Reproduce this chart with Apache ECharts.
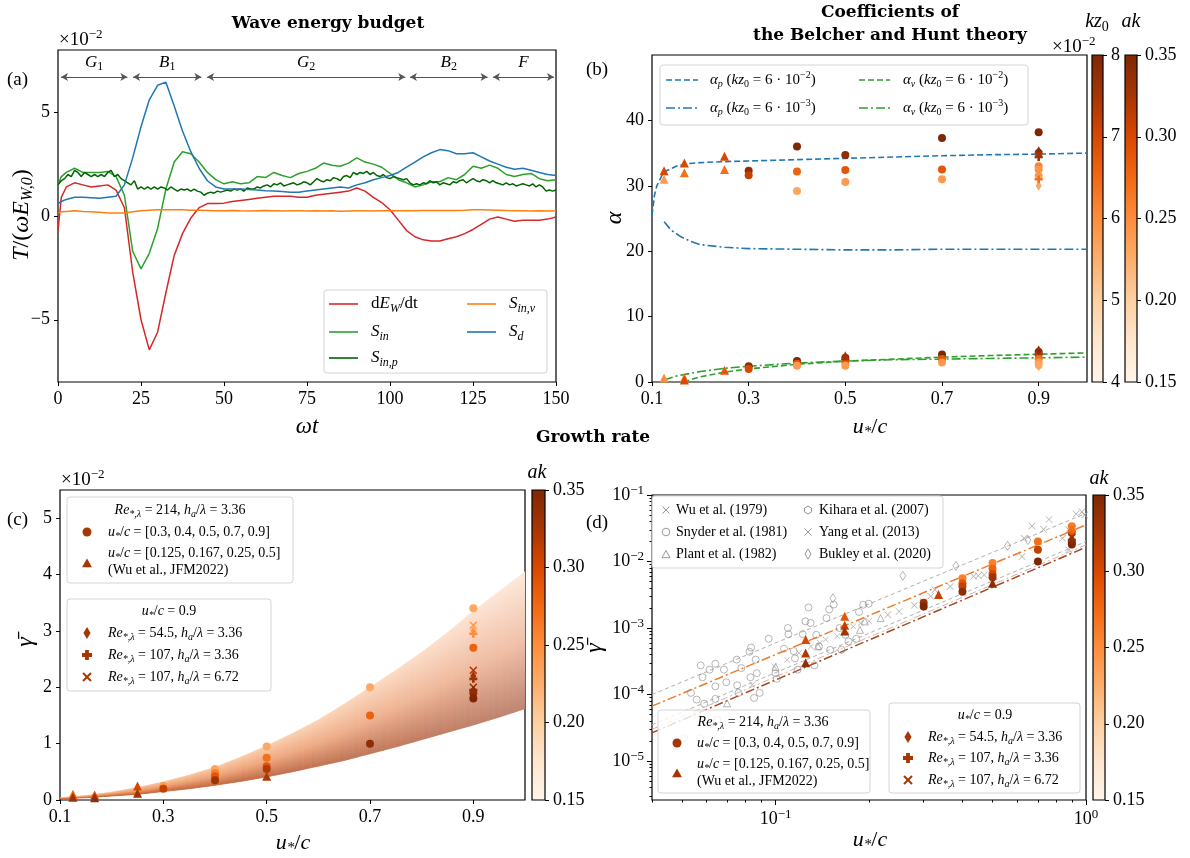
<!DOCTYPE html>
<html><head><meta charset="utf-8">
<script src="https://cdn.jsdelivr.net/npm/echarts@6/dist/echarts.min.js"></script>
<style>html,body{margin:0;padding:0;background:#fff}#c{width:1190px;height:858px}</style>
</head><body><div id="c"></div>
<script>
// ================= DATA =================
// (a) wave energy budget, values in units of 1e-2
const tA = [0,1,2.5,5,7.5,10,12.5,15,17.5,20,22.5,25,27.5,30,32.5,35,37.5,40,42.5,45,47.5,50,52.5,55,57.5,60,62.5,65,67.5,70,72.5,75,77.5,80,82.5,85,87.5,90,92.5,95,97.5,100,102.5,105,107.5,110,112.5,115,117.5,120,122.5,125,127.5,130,132.5,135,137.5,140,142.5,145,147.5,150];
const dEdt = [-0.7,0.9,1.4,1.6,1.5,1.4,1.45,1.5,1.25,0.4,-2.7,-5.0,-6.45,-5.6,-3.7,-1.9,-0.85,-0.1,0.4,0.6,0.6,0.62,0.7,0.75,0.8,0.85,0.9,0.95,0.95,0.95,0.9,0.9,1.0,1.05,1.1,1.15,1.2,1.35,1.2,0.9,0.65,0.3,-0.2,-0.7,-1.0,-1.15,-1.2,-1.2,-1.1,-1.0,-0.85,-0.65,-0.4,-0.15,-0.05,-0.15,-0.25,-0.2,-0.2,-0.2,-0.15,-0.05];
const Sin = [1.5,1.9,2.1,2.3,2.1,2.1,2.1,2.15,1.9,1.0,-1.7,-2.55,-1.8,-0.6,1.3,2.6,3.1,3.0,2.6,2.1,1.75,1.55,1.65,1.55,1.6,1.9,1.85,2.1,1.95,1.85,2.05,2.15,2.3,2.55,2.45,2.4,2.55,2.8,2.6,2.5,2.35,2.05,1.75,1.6,1.4,1.5,1.65,1.65,1.85,1.75,2.0,2.4,2.3,2.45,2.3,2.0,1.9,2.0,2.05,1.8,1.7,1.75];
const SinNu = [0.15,0.2,0.22,0.25,0.22,0.2,0.18,0.15,0.15,0.15,0.2,0.25,0.28,0.3,0.3,0.3,0.3,0.28,0.28,0.27,0.25,0.25,0.27,0.25,0.24,0.25,0.26,0.25,0.24,0.25,0.25,0.24,0.25,0.24,0.25,0.23,0.24,0.25,0.25,0.24,0.25,0.26,0.25,0.25,0.25,0.26,0.27,0.26,0.26,0.27,0.28,0.3,0.3,0.29,0.28,0.26,0.25,0.25,0.24,0.25,0.24,0.25];
const Sd = [0.6,0.7,0.8,0.9,0.9,0.88,0.85,0.9,0.95,1.5,2.8,4.3,5.6,6.3,6.45,5.3,4.1,3.1,2.3,1.7,1.4,1.3,1.3,1.3,1.28,1.25,1.22,1.2,1.18,1.15,1.15,1.2,1.25,1.3,1.35,1.4,1.35,1.5,1.6,1.75,1.85,1.95,2.1,2.35,2.6,2.85,3.05,3.2,3.15,3.0,3.0,3.05,2.85,2.65,2.5,2.35,2.25,2.3,2.2,2.1,2.0,1.95];
// S_in,p sampled every 1 unit of omega t (0..150)
const tPstep = 1;
const SinP = [1.5,1.7,1.8,2.0,1.9,2.2,2.1,1.9,2.1,2.0,1.9,
 2.0,1.9,2.0,1.9,2.1,2.2,1.9,2.0,1.8,1.7,
 1.6,1.5,1.7,1.3,1.4,1.3,1.4,1.3,1.4,1.3,
 1.4,1.35,1.25,1.4,1.3,1.2,1.3,1.25,1.3,1.2,
 1.3,1.2,1.15,1.0,1.1,1.15,1.1,1.2,1.15,1.2,
 1.25,1.2,1.3,1.25,1.3,1.2,1.35,1.3,1.3,1.4,
 1.35,1.45,1.5,1.4,1.55,1.5,1.6,1.45,1.5,1.55,
 1.6,1.5,1.55,1.65,1.6,1.5,1.65,1.8,1.7,1.65,
 1.75,1.7,1.85,1.8,1.7,1.9,1.95,1.85,2.1,2.0,
 2.1,2.05,2.15,2.0,2.1,1.95,1.9,2.0,1.85,1.8,
 1.9,1.85,1.8,1.75,1.8,1.6,1.5,1.55,1.5,1.6,
 1.55,1.7,1.6,1.65,1.5,1.6,1.55,1.5,1.65,1.6,
 1.7,1.75,1.6,1.7,1.8,1.7,1.65,1.75,1.7,1.6,
 1.7,1.6,1.55,1.5,1.6,1.5,1.55,1.45,1.5,1.55,
 1.5,1.45,1.55,1.4,1.5,1.4,1.2,1.25,1.2,1.25];
const phaseNames = ['{i|G}{sr|1}','{i|B}{sr|1}','{i|G}{sr|2}','{i|B}{sr|2}','{i|F}'];
const phaseStart = [0.9,22.6,44.9,106,131];
const phaseEnd = [20.9,43.2,104.6,129.4,149.4];
const phaseY = 6.7;

// (b) Belcher & Hunt coefficients
const uPhi = [0.1,0.105,0.11,0.12,0.13,0.15,0.175,0.2,0.25,0.3,0.4,0.5,0.6,0.7,0.8,0.9,1.0];
const aPhi = [25.5,28.5,30.0,31.5,32.3,33.0,33.4,33.55,33.7,33.8,34.0,34.2,34.4,34.6,34.75,34.85,35.0];
const uPlo = [0.125,0.14,0.16,0.18,0.2,0.25,0.3,0.4,0.5,0.6,0.7,0.8,0.9,1.0];
const aPlo = [24.5,23.2,22.2,21.5,21.0,20.6,20.4,20.3,20.2,20.2,20.3,20.3,20.3,20.3];
const uNhi = [0.165,0.2,0.25,0.3,0.4,0.5,0.6,0.7,0.8,0.9,1.0];
const aNhi = [0.0,0.8,1.5,2.0,2.7,3.2,3.5,3.8,4.05,4.25,4.45];
const uNlo = [0.125,0.15,0.2,0.25,0.3,0.4,0.5,0.6,0.7,0.8,0.9,1.0];
const aNlo = [0.3,0.9,1.6,2.1,2.4,2.9,3.2,3.4,3.5,3.6,3.7,3.8];
// [u*/c, alpha, ak]
const bCirc = [[0.3,32.3,0.34],[0.3,31.6,0.31],[0.4,36.0,0.35],[0.4,32.2,0.28],[0.4,29.2,0.23],[0.5,34.7,0.34],[0.5,32.4,0.29],[0.5,30.6,0.24],[0.7,37.3,0.35],[0.7,32.5,0.29],[0.7,31.0,0.24],[0.9,38.2,0.35],[0.9,35.0,0.32],[0.9,33.0,0.26],[0.9,32.5,0.24],[0.9,31.5,0.23],
 [0.3,2.4,0.34],[0.3,2.0,0.3],[0.4,3.2,0.35],[0.4,2.8,0.29],[0.4,2.5,0.24],[0.5,3.7,0.34],[0.5,3.1,0.29],[0.5,2.5,0.24],[0.7,4.2,0.35],[0.7,3.5,0.29],[0.7,3.0,0.24],[0.9,4.6,0.35],[0.9,4.2,0.32],[0.9,3.5,0.27],[0.9,3.0,0.24],[0.9,2.6,0.23]];
const bTri = [[0.125,32.3,0.3],[0.125,31.0,0.24],[0.167,33.5,0.3],[0.167,32.0,0.27],[0.25,34.5,0.3],[0.25,32.5,0.27],[0.125,0.6,0.25],[0.167,0.6,0.27],[0.167,0.3,0.3],[0.25,1.8,0.29],[0.5,4.0,0.33]];
const bDia = [[0.9,35.3,0.34],[0.9,30.0,0.23],[0.9,4.8,0.34],[0.9,2.4,0.23]];
const bPlus = [[0.9,31.0,0.27],[0.9,34.4,0.33]];
const bX = [[0.9,34.8,0.33],[0.9,32.0,0.25]];

// (c) growth rate (units 1e-2)
const bandU = [0.1,0.15,0.2,0.25,0.3,0.35,0.4,0.45,0.5,0.55,0.6,0.65,0.7,0.75,0.8,0.85,0.9,0.95,1.0];
const bandLo = [0.02,0.04,0.07,0.1,0.15,0.2,0.26,0.33,0.41,0.5,0.6,0.7,0.82,0.94,1.07,1.2,1.33,1.47,1.62];
const bandHi = [0.04,0.08,0.14,0.22,0.32,0.44,0.58,0.76,0.96,1.18,1.42,1.7,2.0,2.3,2.62,2.97,3.35,3.7,4.05];
const cCirc = [[0.3,0.25,0.24],[0.3,0.2,0.31],[0.4,0.55,0.23],[0.4,0.48,0.26],[0.4,0.42,0.29],[0.4,0.35,0.33],[0.5,0.95,0.23],[0.5,0.75,0.27],[0.5,0.6,0.29],[0.5,0.55,0.32],[0.7,2.0,0.23],[0.7,1.5,0.28],[0.7,1.0,0.34],[0.9,3.4,0.23],[0.9,2.7,0.28],[0.9,1.9,0.34],[0.9,1.8,0.35]];
const cTri = [[0.125,0.1,0.28],[0.125,0.05,0.33],[0.167,0.09,0.3],[0.167,0.04,0.34],[0.25,0.25,0.3],[0.25,0.12,0.33],[0.5,0.42,0.32]];
const cDia = [[0.9,3.0,0.24],[0.9,2.2,0.33],[0.9,1.85,0.35]];
const cPlus = [[0.9,2.95,0.25],[0.9,2.15,0.33],[0.9,1.95,0.34]];
const cX = [[0.9,3.1,0.24],[0.9,2.3,0.32],[0.9,2.0,0.34]];

// (d) growth rate, log-log
const wu79 = [[0.0841,1.41e-4],[0.099,2.66e-4],[0.109,3.35e-4],[0.119,4.2e-4],[0.13,5.3e-4],[0.139,6.0e-4],[0.145,6.7e-4],[0.158,7.5e-4],[0.178,1.06e-3],[0.188,1.19e-3],[0.2,1.26e-3]];
const snyder81 = [[0.0534,1.06e-4],[0.0557,8.4e-5],[0.0574,2.75e-4],[0.0582,1.82e-4],[0.0589,7.3e-5],[0.0613,2.37e-4],[0.064,2.9e-4],[0.064,1.33e-4],[0.064,8.6e-5],[0.0682,2.37e-4],[0.0694,1.53e-4],[0.075,3.35e-4],[0.0752,1.38e-4],[0.076,1.06e-4],[0.0776,2.5e-4],[0.0824,4.4e-4],[0.0834,5.1e-4],[0.083,1.82e-4],[0.0853,8.9e-5],[0.0863,3.35e-4],[0.087,2.1e-4],[0.0889,1.06e-4],[0.095,6.9e-4],[0.1,2.1e-4],[0.1009,1.72e-4],[0.1065,4.9e-4],[0.1096,1.0e-3],[0.11,8.1e-4],[0.1145,4.5e-4],[0.1155,3.5e-4],[0.1178,2.37e-4],[0.1223,8.1e-4],[0.1248,1.26e-3],[0.1277,2.04e-3],[0.1296,1.19e-3],[0.1334,2.75e-4],[0.1352,7.9e-4],[0.138,5.3e-4],[0.1459,1.41e-3],[0.1488,1.9e-3],[0.15,4.7e-4],[0.154,2.26e-3],[0.1608,1.0e-3],[0.163,4.7e-4],[0.168,7.9e-4],[0.1718,6.3e-4],[0.182,6.9e-4],[0.1857,1.74e-3],[0.1916,2.24e-3],[0.1995,2.32e-3],[0.0571,2.24e-5],[0.0596,4.2e-5],[0.0508,2.24e-5]];
const plant82 = [[0.0698,7.4e-5],[0.1,2.6e-4],[0.137,5.3e-4],[0.187,9.4e-4],[0.194,1.26e-3],[0.218,1.41e-3]];
const kihara07 = [[0.0557,5.0e-5],[0.0611,3.6e-5],[0.0649,4.2e-5]];
const yang13 = [[0.23,1.58e-3],[0.25,1.78e-3],[0.28,2.2e-3],[0.299,2.5e-3],[0.316,3.0e-3],[0.326,3.76e-3],[0.365,4.2e-3],[0.434,6.0e-3],[0.45,6.1e-3],[0.47,6.3e-3],[0.5,5.3e-3],[0.622,1.19e-2],[0.632,2.24e-2],[0.67,3.43e-2],[0.73,3.05e-2],[0.76,4.3e-2],[0.84,2.24e-2],[0.88,1.5e-2],[0.93,5.2e-2],[0.97,5.6e-2],[0.99,5.0e-2],[0.88,3.0e-2]];
const bukley20 = [[0.153,2.8e-3],[0.257,6.1e-3],[0.381,8.6e-3],[0.559,1.72e-2],[0.65,2.1e-2]];
const refUpper = [[0.04,1.0e-4],[1.0,5.3e-2]];
const refOrange = [[0.04,6.7e-5],[1.0,3.55e-2]];
const refGrayA = [[0.04,3.5e-5],[1.0,2.0e-2]];
const refGrayB = [[0.04,3.0e-5],[1.0,1.78e-2]];
const refBrown = [[0.04,2.66e-5],[1.0,1.64e-2]];
const dCirc = [[0.3,2.4e-3,0.33],[0.3,2.1e-3,0.35],[0.4,5.6e-3,0.26],[0.4,4.7e-3,0.29],[0.4,4.2e-3,0.31],[0.4,3.5e-3,0.34],[0.5,9.5e-3,0.26],[0.5,7.8e-3,0.28],[0.5,6.5e-3,0.3],[0.5,5.8e-3,0.33],[0.7,2.0e-2,0.27],[0.7,1.5e-2,0.31],[0.7,1.0e-2,0.35],[0.9,3.4e-2,0.26],[0.9,2.7e-2,0.3],[0.9,1.9e-2,0.34],[0.9,1.8e-2,0.35]];
const dTri = [[0.125,6.7e-4,0.3],[0.125,4.2e-4,0.32],[0.125,3.0e-4,0.34],[0.167,1.5e-3,0.29],[0.167,1.1e-3,0.31],[0.167,9.0e-4,0.33],[0.335,3.2e-3,0.31],[0.5,4.7e-3,0.34]];
const dDia = [[0.9,3.0e-2,0.27],[0.9,2.2e-2,0.33]];
const dPlus = [[0.9,2.9e-2,0.28],[0.9,2.1e-2,0.34]];
const dX = [[0.9,3.1e-2,0.27],[0.9,2.3e-2,0.33]];

// tick labels
const ticksA_x = [0,25,50,75,100,125,150];
const ticksA_y = [-5,0,5];
const ticksU = [0.1,0.3,0.5,0.7,0.9];
const ticksB_y = [0,10,20,30,40];
const ticksC_y = [0,1,2,3,4,5];
const ticksKz = [4,5,6,7,8];
const ticksAk = [0.15,0.2,0.25,0.3,0.35];
const ticksD_x = [0.1,1];
const ticksD_xm = [0.04,0.05,0.06,0.07,0.08,0.09,0.2,0.3,0.4,0.5,0.6,0.7,0.8,0.9];
const ticksD_y = [1e-5,1e-4,1e-3,1e-2,1e-1];
const ticksD_ym = [3e-6,4e-6,5e-6,6e-6,7e-6,8e-6,9e-6,2e-5,3e-5,4e-5,5e-5,6e-5,7e-5,8e-5,9e-5,2e-4,3e-4,4e-4,5e-4,6e-4,7e-4,8e-4,9e-4,2e-3,3e-3,4e-3,5e-3,6e-3,7e-3,8e-3,9e-3,2e-2,3e-2,4e-2,5e-2,6e-2,7e-2,8e-2,9e-2];

// ================= STYLE =================
const SERIF = "'Liberation Serif','DejaVu Serif',serif";
const BOLD = "'DejaVu Serif','Liberation Serif',serif";
const OR = ['#fff5eb','#fee6ce','#fdd0a2','#fdae6b','#fd8d3c','#f16913','#d94801','#a63603','#7f2704'];
const MK = '#a63603';
const cbGrad = new echarts.graphic.LinearGradient(0,0,0,1, OR.slice().reverse().map((c,i)=>({offset:i/8,color:c})));
// band colours (left end / right end of the band), top -> bottom
const bandColL = [[249,184,134],[236,146,92],[196,90,40]];
const bandColR = [[253,233,220],[240,192,168],[190,132,112]];

function R(s){const q=Math.round(s*0.68);const b={fontFamily:SERIF,fill:'#000',color:'#000'};
  return {
    r:Object.assign({},b,{fontSize:s,lineHeight:s+4}),
    i:Object.assign({},b,{fontSize:s,lineHeight:s+4,fontStyle:'italic'}),
    sb:Object.assign({},b,{fontSize:q,lineHeight:q,fontStyle:'italic',verticalAlign:'bottom'}),
    sr:Object.assign({},b,{fontSize:q,lineHeight:q,verticalAlign:'bottom'}),
    su:Object.assign({},b,{fontSize:q,lineHeight:q,verticalAlign:'top'})
  };}

// ================= GRAPHICS (text, legends) =================
const G = [];
function T(x,y,text,s,o){o=o||{};G.push({type:'text',x:x,y:y,z:100,silent:true,rotation:o.rot||0,
  style:{text:text,fill:'#000',fontFamily:o.bold?BOLD:SERIF,fontSize:s,fontWeight:o.bold?'bold':'normal',
  fontStyle:o.it?'italic':'normal',align:o.align||'left',verticalAlign:'middle',rich:R(s)}});}
function box(x,y,w,h){G.push({type:'rect',z:99,silent:true,shape:{x:x,y:y,width:w,height:h,r:3},style:{fill:'rgba(255,255,255,0.8)',stroke:'#d4d4d4',lineWidth:1}});}
function seg(x1,y,x2,color,dash){G.push({type:'line',z:100,silent:true,shape:{x1:x1,y1:y,x2:x2,y2:y},style:{stroke:color,lineWidth:1.6,lineDash:dash||null}});}
function mk(kind,cx,cy,r,color,hollow){
  const st = hollow?{fill:'none',stroke:color,lineWidth:0.9}:{fill:color};
  let pts=null;
  if(kind==='circle'){G.push({type:'circle',z:100,silent:true,shape:{cx:cx,cy:cy,r:r},style:st});return;}
  if(kind==='x'){const w=hollow?0.9:2;
    G.push({type:'line',z:100,silent:true,shape:{x1:cx-r,y1:cy-r,x2:cx+r,y2:cy+r},style:{stroke:color,lineWidth:w}});
    G.push({type:'line',z:100,silent:true,shape:{x1:cx-r,y1:cy+r,x2:cx+r,y2:cy-r},style:{stroke:color,lineWidth:w}});return;}
  if(kind==='tri') pts=[[cx,cy-r],[cx+r*0.9,cy+r*0.6],[cx-r*0.9,cy+r*0.6]];
  if(kind==='dia') pts=[[cx,cy-r],[cx+r*0.6,cy],[cx,cy+r],[cx-r*0.6,cy]];
  if(kind==='hex') pts=[[cx,cy-r],[cx+r*0.87,cy-r/2],[cx+r*0.87,cy+r/2],[cx,cy+r],[cx-r*0.87,cy+r/2],[cx-r*0.87,cy-r/2]];
  if(kind==='plus'){const w=r*0.38;pts=[[cx-w,cy-r],[cx+w,cy-r],[cx+w,cy-w],[cx+r,cy-w],[cx+r,cy+w],[cx+w,cy+w],[cx+w,cy+r],[cx-w,cy+r],[cx-w,cy+w],[cx-r,cy+w],[cx-r,cy-w],[cx-w,cy-w]];}
  G.push({type:'polygon',z:100,silent:true,shape:{points:pts},style:st});
}

// titles
T(328,24,'Wave energy budget',17,{bold:true,align:'center'});
T(890,13,'Coefficients of',17,{bold:true,align:'center'});
T(890,36,'the Belcher and Hunt theory',17,{bold:true,align:'center'});
T(593,438,'Growth rate',17,{bold:true,align:'center'});
// panel labels
T(7,80,'(a)',19); T(586,70,'(b)',19); T(7,520,'(c)',19); T(586,523,'(d)',19);
// multipliers
T(59,40,'{r|×10}{su|−2}',19); T(61,480,'{r|×10}{su|−2}',19); T(1052,47,'{r|×10}{su|−2}',19);
// colorbar titles
T(1097,22,'{i|kz}{sr|0}',20,{align:'center'}); T(1131,22,'{i|ak}',20,{align:'center'});
T(537,473,'{i|ak}',20,{align:'center'}); T(1099,479,'{i|ak}',20,{align:'center'});
// axis titles
T(307,427,'{i|ωt}',23,{align:'center'});
T(870,427,'{i|u}{sb|*}{r|/}{i|c}',22,{align:'center'});
T(293,843,'{i|u}{sb|*}{r|/}{i|c}',22,{align:'center'});
T(870,840,'{i|u}{sb|*}{r|/}{i|c}',22,{align:'center'});
T(22,215,'{i|T}{r|/(}{i|ωE}{sb|W,0}{r|)}',24,{align:'center',rot:Math.PI/2});
T(615,218,'{i|α}',24,{align:'center',rot:Math.PI/2});
T(26,642,'{i|γ̄}',24,{align:'center',rot:Math.PI/2});
T(595,648,'{i|γ̄}',24,{align:'center',rot:Math.PI/2});

// legend (a)
box(324,290,223,83);
seg(329,304,358,'#d62728'); T(371,304,'{r|d}{i|E}{sb|W}{r|/dt}',17);
seg(329,332,358,'#2ca02c'); T(371,332,'{i|S}{sb|in}',17);
seg(329,358,358,'#006400'); T(371,358,'{i|S}{sb|in,p}',17);
seg(467,304,496,'#ff7f0e'); T(509,304,'{i|S}{sb|in,ν}',17);
seg(467,332,496,'#1f77b4'); T(509,332,'{i|S}{sb|d}',17);
// legend (b)
box(660,65,368,60);
seg(666,80,698,'#1f77b4',[6,3]); T(710,80,'{i|α}{sb|p}{r| (}{i|kz}{sr|0}{r| = 6 · 10}{su|−2}{r|)}',15);
seg(666,108,698,'#1f77b4',[9,3,2,3]); T(710,108,'{i|α}{sb|p}{r| (}{i|kz}{sr|0}{r| = 6 · 10}{su|−3}{r|)}',15);
seg(859,80,890,'#2ca02c',[6,3]); T(903,80,'{i|α}{sb|ν}{r| (}{i|kz}{sr|0}{r| = 6 · 10}{su|−2}{r|)}',15);
seg(859,108,890,'#2ca02c',[9,3,2,3]); T(903,108,'{i|α}{sb|ν}{r| (}{i|kz}{sr|0}{r| = 6 · 10}{su|−3}{r|)}',15);
// legends (c)
const ttlRe214 = '{i|Re}{sb|*,λ}{r| = 214, }{i|h}{sb|a}{r|/}{i|λ}{r| = 3.36}';
const rowCirc = '{i|u}{sb|*}{r|/}{i|c}{r| = [0.3, 0.4, 0.5, 0.7, 0.9]}';
const rowTri = '{i|u}{sb|*}{r|/}{i|c}{r| = [0.125, 0.167, 0.25, 0.5]}';
const ttl09 = '{i|u}{sb|*}{r|/}{i|c}{r| = 0.9}';
const rowDia = '{i|Re}{sb|*,λ}{r| = 54.5, }{i|h}{sb|a}{r|/}{i|λ}{r| = 3.36}';
const rowPlus = '{i|Re}{sb|*,λ}{r| = 107, }{i|h}{sb|a}{r|/}{i|λ}{r| = 3.36}';
const rowX = '{i|Re}{sb|*,λ}{r| = 107, }{i|h}{sb|a}{r|/}{i|λ}{r| = 6.72}';
box(67,497,226,86);
T(180,510,ttlRe214,14,{align:'center'});
mk('circle',87,532,4.5,MK); T(108,532,rowCirc,14);
mk('tri',87,564,5.5,MK); T(108,553,rowTri,14); T(108,570,'(Wu et al., JFM2022)',14);
box(67,599,204,92);
T(169,611,ttl09,14,{align:'center'});
mk('dia',87,633,6,MK); T(108,633,rowDia,14);
mk('plus',87,655,5,MK); T(108,655,rowPlus,14);
mk('x',87,677,4,MK); T(108,677,rowX,14);
// legends (d)
box(652,496,291,72);
const GR='#8c8c8c';
mk('x',666,510,3.5,GR,true); T(676,510,'Wu et al. (1979)',14);
mk('circle',666,532,3.8,GR,true); T(676,532,'Snyder et al. (1981)',14);
mk('tri',666,555,4.5,GR,true); T(676,554,'Plant et al. (1982)',14);
mk('hex',808,510,4,GR,true); T(819,510,'Kihara et al. (2007)',14);
mk('x',808,532,3.5,GR,true); T(819,532,'Yang et al. (2013)',14);
mk('dia',808,554,5,GR,true); T(819,554,'Bukley et al. (2020)',14);
box(658,710,212,83);
T(763,722,ttlRe214,14,{align:'center'});
mk('circle',677,743,4.5,MK); T(697,743,rowCirc,14);
mk('tri',677,774,5.5,MK); T(697,764,rowTri,14); T(697,781,'(Wu et al., JFM2022)',14);
box(889,703,191,90);
T(985,715,ttl09,14,{align:'center'});
mk('dia',908,737,6,MK); T(928,737,rowDia,14);
mk('plus',908,758,5,MK); T(928,758,rowPlus,14);
mk('x',908,780,4,MK); T(928,780,rowX,14);

// ================= AXES =================
function ax(gi,type,min,max,ticks,fmt,o){o=o||{};
  const a={type:type,gridIndex:gi,min:min,max:max,position:o.pos,
    axisLine:{show:false,onZero:false},splitLine:{show:false},
    axisTick:{show:true,length:o.tl||4,inside:false,lineStyle:{color:'#000',width:1},customValues:ticks},
    axisLabel:{show:!o.nolab,customValues:ticks,formatter:fmt,fontFamily:SERIF,fontSize:18,color:'#000',margin:o.m||8,rich:o.rich}};
  if(type==='log') a.logBase=10;
  return a;}
function hid(gi){return {type:'value',gridIndex:gi,min:0,max:1,show:false,axisLine:{onZero:false}};}
const fmtMinus = v=> v<0?'−'+(-v):String(v);
const fmt1 = v=> v.toFixed(1);
const fmt2 = v=> v.toFixed(2);
const fmtPow = v=>{const e=Math.round(Math.log10(v));return '{b|10}{s|'+(e<0?'−'+(-e):String(e))+'}';};
const richPow = {b:{fontFamily:SERIF,fontSize:18,color:'#000',lineHeight:22},s:{fontFamily:SERIF,fontSize:13,color:'#000',lineHeight:13,verticalAlign:'top'}};

const gridDefs = [
  [58,50,498,332,false],[652,55,435,327,false],[1092,55,11,327,true],[1125,55,12,327,true],
  [60,490,465,310,false],[532,490,13,310,true],[652,495,434,305,false],[1093,495,12,305,true]];
const grid = gridDefs.map(g=>({left:g[0],top:g[1],width:g[2],height:g[3],show:true,borderColor:'#000',borderWidth:1.2,backgroundColor:g[4]?cbGrad:'rgba(0,0,0,0)'}));

const xAxis = [
  ax(0,'value',0,150,ticksA_x,String),
  ax(1,'value',0.1,1.0,ticksU,fmt1),
  hid(2), hid(3),
  ax(4,'value',0.1,1.0,ticksU,fmt1),
  hid(5),
  ax(6,'log',0.04,1,ticksD_x,fmtPow,{rich:richPow,tl:5,pos:'bottom'}),
  hid(7),
  ax(6,'log',0.04,1,ticksD_xm,fmtPow,{nolab:true,tl:2.5,pos:'bottom'})
];
const yAxis = [
  ax(0,'value',-8,8,ticksA_y,fmtMinus),
  ax(1,'value',0,50,ticksB_y,String),
  ax(2,'value',4,8,ticksKz,String,{pos:'right'}),
  ax(3,'value',0.15,0.35,ticksAk,fmt2,{pos:'right'}),
  ax(4,'value',0,5.5,ticksC_y,String),
  ax(5,'value',0.15,0.35,ticksAk,fmt2,{pos:'right'}),
  ax(6,'log',2.6e-6,0.1,ticksD_y,fmtPow,{rich:richPow,tl:5,pos:'left'}),
  ax(7,'value',0.15,0.35,ticksAk,fmt2,{pos:'right'}),
  ax(6,'log',2.6e-6,0.1,ticksD_ym,fmtPow,{nolab:true,tl:2.5,pos:'left'})
];

// ================= SERIES =================
const series = [];
const vmIdx = [];
function pair(x,y){return x.map((v,i)=>[v,y[i]]);}
function ln(xi,yi,data,color,w,dash,z){series.push({type:'line',xAxisIndex:xi,yAxisIndex:yi,data:data,showSymbol:false,symbol:'none',silent:true,
  lineStyle:{color:color,width:w,type:dash||'solid'},itemStyle:{color:color},z:z||3});}
function sc(xi,yi,data,symbol,size,o){o=o||{};
  const s={type:'scatter',xAxisIndex:xi,yAxisIndex:yi,data:data,symbol:symbol,symbolSize:size,silent:true,z:o.z||5};
  if(o.hollow){s.itemStyle={color:'rgba(0,0,0,0)',borderColor:o.hollow,borderWidth:0.8};}
  else if(o.color){s.itemStyle={color:o.color};}
  else {s.itemStyle={opacity:1}; vmIdx.push(series.length);}
  series.push(s);}
const PLUS='path://M-1,-3L1,-3L1,-1L3,-1L3,1L1,1L1,3L-1,3L-1,1L-3,1L-3,-1L-1,-1Z';
const XF='path://M0,1.3L1.3,0L5,3.7L8.7,0L10,1.3L6.3,5L10,8.7L8.7,10L5,6.3L1.3,10L0,8.7L3.7,5Z';
const XT='path://M0,0.7L0.7,0L5,4.3L9.3,0L10,0.7L5.7,5L10,9.3L9.3,10L5,5.7L0.7,10L0,9.3L4.3,5Z';
const HEX='path://M5,0L9.33,2.5L9.33,7.5L5,10L0.67,7.5L0.67,2.5Z';

// (a)
ln(0,0,pair(tA,dEdt),'#d62728',1.5);
ln(0,0,pair(tA,Sin),'#2ca02c',1.5);
ln(0,0,SinP.map((v,i)=>[i*tPstep,v]),'#006400',1.5);
ln(0,0,pair(tA,SinNu),'#ff7f0e',1.5);
ln(0,0,pair(tA,Sd),'#1f77b4',1.5);
series.push({type:'line',xAxisIndex:0,yAxisIndex:0,data:[],silent:true,
  markLine:{silent:true,symbol:['arrow','arrow'],symbolSize:[6,7],animation:false,
    lineStyle:{color:'#555',width:1.2,type:'solid'},
    label:{show:true,position:'insideMiddleTop',distance:4,color:'#000',fontFamily:SERIF,fontSize:17,rich:R(17)},
    data:phaseNames.map((n,i)=>[{coord:[phaseStart[i],phaseY],label:{formatter:n}},{coord:[phaseEnd[i],phaseY]}])}});
// (b)
ln(1,1,pair(uPhi,aPhi),'#1f77b4',1.6,[6,3],3);
ln(1,1,pair(uPlo,aPlo),'#1f77b4',1.6,[9,3,2,3],3);
ln(1,1,pair(uNhi,aNhi),'#2ca02c',1.6,[6,3],3);
ln(1,1,pair(uNlo,aNlo),'#2ca02c',1.6,[9,3,2,3],3);
sc(1,1,bCirc,'circle',8);
sc(1,1,bTri,'triangle',9);
sc(1,1,bDia,'diamond',[6,10]);
sc(1,1,bPlus,PLUS,8);
sc(1,1,bX,XF,8);
// (c) band: each data segment drawn as thin strips, each with its own top->bottom gradient
function mixc(a,b,t){return 'rgb('+a.map((v,k)=>Math.round(v+(b[k]-v)*t)).join(',')+')';}
const bandSegs = bandU.slice(0,-1).map((u,i)=>[u,bandLo[i],bandHi[i],bandU[i+1],bandLo[i+1],bandHi[i+1]]);
series.push({type:'custom',xAxisIndex:4,yAxisIndex:4,data:bandSegs,silent:true,z:1,clip:true,
  encode:{x:[0,3],y:[1,2,4,5]},
  renderItem:function(p,api){
    const u0=api.value(0),u1=api.value(3);
    const a=api.coord([u0,api.value(1)]), b=api.coord([u1,api.value(4)]),
          c=api.coord([u1,api.value(5)]), d=api.coord([u0,api.value(2)]);
    const N=12, kids=[];
    const L=(P,Q,f)=>[P[0]+(Q[0]-P[0])*f,P[1]+(Q[1]-P[1])*f];
    for(let k=0;k<N;k++){
      const f0=k/N,f1=(k+1)/N,fm=(f0+f1)/2;
      const top=L(d,c,fm), bot=L(a,b,fm);
      const tt=((u0+(u1-u0)*fm)-0.1)/0.9;
      const g=new echarts.graphic.LinearGradient(top[0],top[1],bot[0],bot[1],[
        {offset:0,color:mixc(bandColL[0],bandColR[0],tt)},
        {offset:0.5,color:mixc(bandColL[1],bandColR[1],tt)},
        {offset:1,color:mixc(bandColL[2],bandColR[2],tt)}],true);
      kids.push({type:'polygon',shape:{points:[L(a,b,f0),L(a,b,f1),L(d,c,f1),L(d,c,f0)]},style:{fill:g,stroke:g,lineWidth:0.7}});
    }
    return {type:'group',children:kids};
  }});
sc(4,4,cCirc,'circle',8);
sc(4,4,cTri,'triangle',9);
sc(4,4,cDia,'diamond',[6,10]);
sc(4,4,cPlus,PLUS,8);
sc(4,4,cX,XF,8);
// (d)
ln(6,6,refUpper,'#b0b0b0',1,[4,3],2);
ln(6,6,refGrayA,'#b0b0b0',1,[4,3],2);
ln(6,6,refGrayB,'#d8b0b0',1,[7,3,2,3],2);
ln(6,6,refOrange,'#f07a2a',1.5,[9,3,2,3],3);
ln(6,6,refBrown,'#a84a20',1.5,[9,3,2,3],3);
sc(6,6,wu79,XT,6,{color:'#999'});
sc(6,6,snyder81,'circle',7,{hollow:'#8c8c8c'});
sc(6,6,plant82,'triangle',7,{hollow:'#8c8c8c'});
sc(6,6,kihara07,HEX,7,{hollow:'#8c8c8c'});
sc(6,6,yang13,XT,7,{color:'#999'});
sc(6,6,bukley20,'diamond',[6,9],{hollow:'#8c8c8c'});
sc(6,6,dCirc,'circle',8);
sc(6,6,dTri,'triangle',9);
sc(6,6,dDia,'diamond',[6,10]);
sc(6,6,dPlus,PLUS,8);
sc(6,6,dX,XF,8);

const option = {
  animation:false, backgroundColor:'#fff',
  grid:grid, xAxis:xAxis, yAxis:yAxis,
  visualMap:[{type:'continuous',show:false,dimension:2,min:0.15,max:0.35,seriesIndex:vmIdx,inRange:{color:OR}}],
  series:series,
  graphic:{elements:G}
};
const chart = echarts.init(document.getElementById('c'),null,{renderer:'canvas'});
chart.setOption(option);
</script></body></html>
